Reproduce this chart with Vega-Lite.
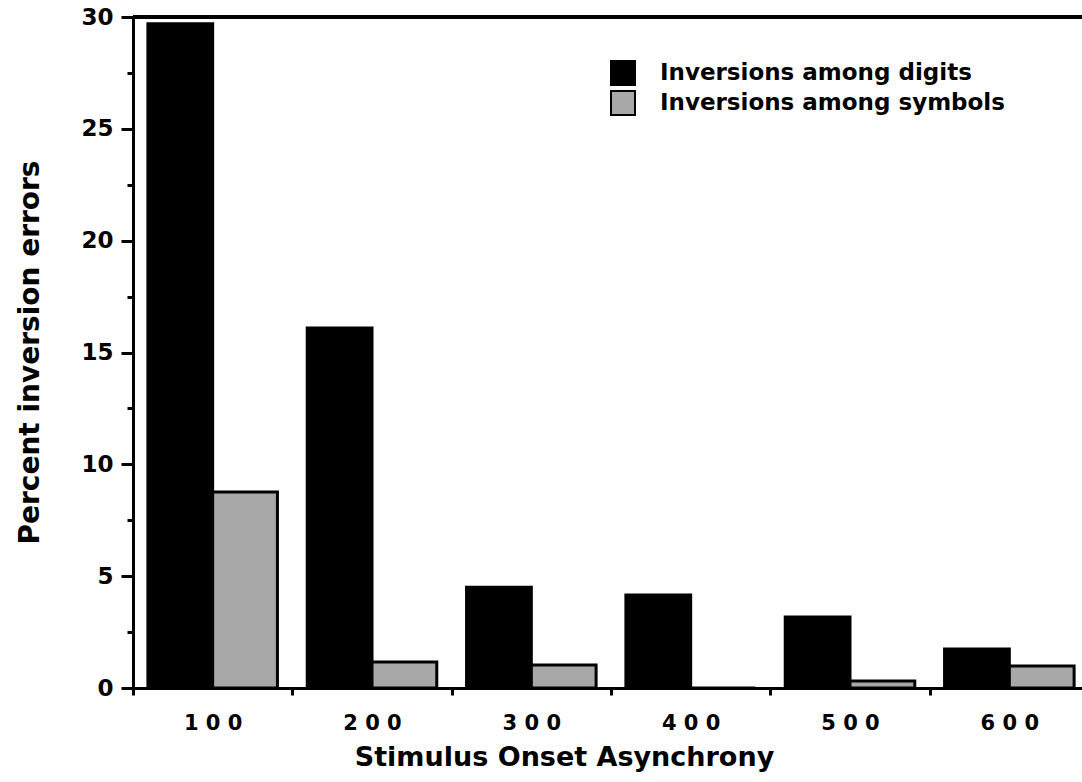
{
  "$schema": "https://vega.github.io/schema/vega-lite/v6.json",
  "width": 956,
  "height": 671,
  "autosize": {"type": "none"},
  "padding": {"left": 133, "top": 17, "right": 0, "bottom": 94},
  "background": "white",
  "config": {
    "view": {"stroke": null},
    "font": "DejaVu Sans",
    "axis": {"grid": false, "domainColor": "black", "tickColor": "black", "labelColor": "black", "titleColor": "black", "labelFontWeight": "bold", "titleFontWeight": "bold", "labelFont": "DejaVu Sans", "titleFont": "DejaVu Sans"}
  },
  "data": {
    "values": [
      {"soa": 100, "type": "Inversions among digits", "percent": 29.7},
      {"soa": 100, "type": "Inversions among symbols", "percent": 8.76},
      {"soa": 200, "type": "Inversions among digits", "percent": 16.1},
      {"soa": 200, "type": "Inversions among symbols", "percent": 1.16},
      {"soa": 300, "type": "Inversions among digits", "percent": 4.5},
      {"soa": 300, "type": "Inversions among symbols", "percent": 1.03},
      {"soa": 400, "type": "Inversions among digits", "percent": 4.16},
      {"soa": 400, "type": "Inversions among symbols", "percent": 0},
      {"soa": 500, "type": "Inversions among digits", "percent": 3.17},
      {"soa": 500, "type": "Inversions among symbols", "percent": 0.31},
      {"soa": 600, "type": "Inversions among digits", "percent": 1.74},
      {"soa": 600, "type": "Inversions among symbols", "percent": 0.98}
    ]
  },
  "layer": [
    {
      "mark": {"type": "bar", "stroke": "black", "strokeWidth": 3},
      "encoding": {
        "x": {
          "field": "soa",
          "type": "nominal",
          "scale": {"paddingInner": 0, "paddingOuter": 0},
          "axis": {
            "title": "Stimulus Onset Asynchrony",
            "titleFontSize": 27,
            "titleX": 431,
            "titleY": 77,
            "titleBaseline": "alphabetic",
            "titleAlign": "center",
            "tickBand": "extent",
            "tickSize": 7,
            "tickWidth": 3,
            "domainWidth": 3,
            "labelAngle": 0,
            "labelFontSize": 21,
            "labelPadding": 17,
            "labelExpr": "slice(datum.label,0,1)+' '+slice(datum.label,1,2)+' '+slice(datum.label,2)"
          }
        },
        "xOffset": {"field": "type", "type": "nominal", "scale": {"paddingInner": 0, "paddingOuter": 0.23}},
        "y": {
          "field": "percent",
          "type": "quantitative",
          "scale": {"domain": [0, 30], "nice": false},
          "axis": {
            "values": [0, 5, 10, 15, 20, 25, 30],
            "tickSize": 12,
            "tickWidth": 3,
            "domainWidth": 3,
            "labelFontSize": 23,
            "labelPadding": 8,
            "title": "Percent inversion errors",
            "titleFontSize": 28,
            "titleX": -103,
            "titleY": 335,
            "titleAngle": -90,
            "titleBaseline": "middle",
            "titleAlign": "center"
          }
        },
        "color": {
          "field": "type",
          "type": "nominal",
          "scale": {"range": ["#000000", "#a8a8a8"]},
          "legend": {
            "title": null,
            "orient": "none",
            "legendX": 477,
            "legendY": 43,
            "padding": 0,
            "symbolType": "square",
            "symbolSize": 576,
            "symbolStrokeColor": "black",
            "symbolStrokeWidth": 2,
            "labelFontSize": 23,
            "labelFontWeight": "bold",
            "labelColor": "black",
            "labelFont": "DejaVu Sans",
            "labelOffset": 24,
            "rowPadding": -2,
            "labelLimit": 400
          }
        }
      }
    },
    {
      "mark": {"type": "rule", "strokeWidth": 3, "color": "black"},
      "encoding": {
        "y": {
          "datum": 30,
          "type": "quantitative",
          "scale": {"domain": [0, 30], "nice": false},
          "axis": {
            "orient": "left",
            "values": [2.5, 7.5, 12.5, 17.5, 22.5, 27.5],
            "tickSize": 6,
            "tickWidth": 3,
            "labels": false,
            "domain": false,
            "title": null
          }
        }
      }
    }
  ],
  "resolve": {"axis": {"y": "independent"}}
}
